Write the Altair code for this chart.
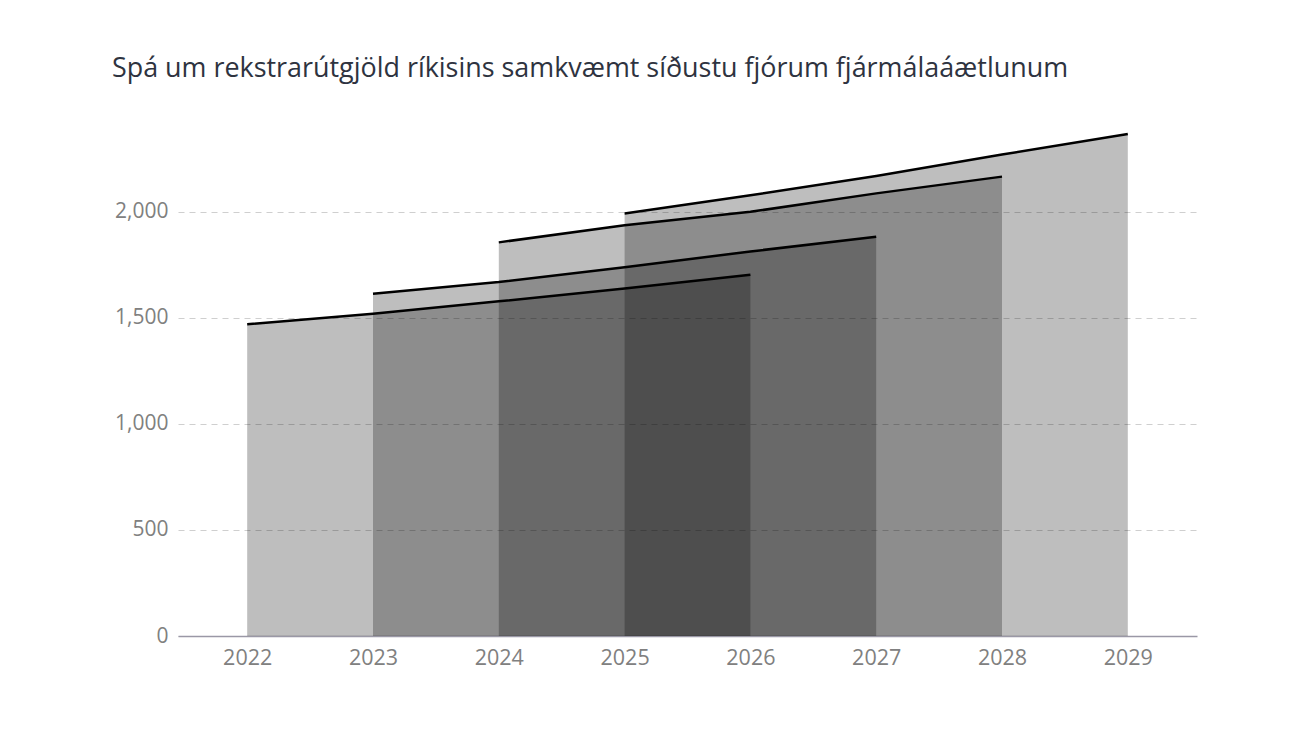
import altair as alt
import pandas as pd

title = "Spá um rekstrarútgjöld ríkisins samkvæmt síðustu fjórum fjármálaáætlunum"

years = [2022, 2023, 2024, 2025, 2026, 2027, 2028, 2029]
plan_names = ["Áætlun 2022–2026", "Áætlun 2023–2027", "Áætlun 2024–2028", "Áætlun 2025–2029"]
plan_years = [
    [2022, 2023, 2024, 2025, 2026],
    [2023, 2024, 2025, 2026, 2027],
    [2024, 2025, 2026, 2027, 2028],
    [2025, 2026, 2027, 2028, 2029],
]
plan_values = [
    [1470, 1520, 1578, 1638, 1703],
    [1614, 1669, 1739, 1813, 1883],
    [1856, 1937, 2000, 2087, 2166],
    [1992, 2078, 2169, 2270, 2367],
]

rows = []
for name, ys, vs in zip(plan_names, plan_years, plan_values):
    for y, v in zip(ys, vs):
        rows.append({"plan": name, "year": str(y), "value": v})
df = pd.DataFrame(rows)

FONT = "Open Sans"

x = alt.X(
    "year:O",
    scale=alt.Scale(type="point", padding=0.55, domain=[str(y) for y in years]),
    axis=alt.Axis(
        title=None, labelAngle=0, ticks=False, grid=False,
        domainColor="#9a98a6", domainWidth=1.5,
        labelFontSize=21.5, labelColor="#808080", labelFont=FONT, labelPadding=11,
    ),
)
y = alt.Y(
    "value:Q",
    stack=None,
    scale=alt.Scale(domain=[0, 2400], nice=False),
    axis=alt.Axis(
        title=None, values=[0, 500, 1000, 1500, 2000], format=",.0f",
        ticks=False, domain=False, grid=True, gridDash=[6, 5], gridColor="#cfcfcf",
        labelFontSize=21, labelColor="#808080", labelFont=FONT, labelPadding=10,
    ),
)

area = alt.Chart(df).mark_area(color="black", opacity=0.255, interpolate="linear").encode(
    x=x, y=y, detail="plan:N"
)
line = alt.Chart(df).mark_line(color="black", strokeWidth=2.5, interpolate="linear").encode(
    x=x, y=y, detail="plan:N"
)

chart = (
    alt.layer(area, line)
    .properties(
        width=1019,
        height=509,
        autosize=alt.AutoSizeParams(type="none"),
        padding={"left": 170, "top": 119, "right": 20, "bottom": 60},
        title=alt.TitleParams(
            title, anchor="start", frame="group", dx=-66, dy=-40,
            fontSize=26.9, fontWeight="normal", color="#2e3340", font=FONT,
        ),
    )
    .configure_view(stroke=None)
)

chart.save("out.html", embed_options={"renderer": "svg", "actions": False})
